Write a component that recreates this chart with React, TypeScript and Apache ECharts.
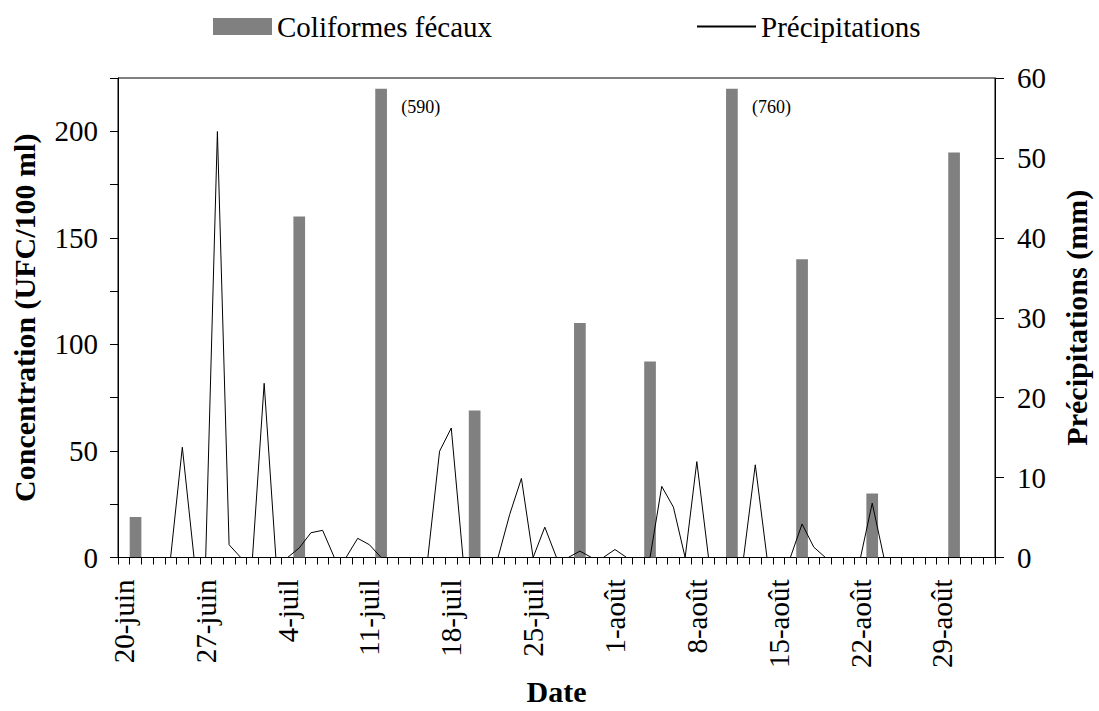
import React, { useEffect, useRef } from "react";
import * as echarts from "echarts";

// Months covered by the daily axis: [label, first day, last day]
const months: [string, number, number][] = [
  ["juin", 20, 30],
  ["juil", 1, 31],
  ["août", 1, 31],
  ["sept", 1, 2],
];

// Fecal coliform sampling dates and concentrations (UFC/100 ml)
const sampleDates = ["21-juin", "5-juil", "12-juil", "20-juil", "29-juil", "4-août", "11-août", "17-août", "23-août", "30-août"];
const coliformValues = [19, 160, 590, 69, 110, 92, 760, 140, 30, 190];
const coliformCap = 220; // values above the axis are drawn truncated with their value in brackets

// Daily precipitation (mm), 20-juin .. 2-sept
const precipitation = [
  0, 0, 0, 0, 0, 13.8, 0, 0, 53.3, 1.6,
  0, 0, 21.8, 0, 0, 1.2, 3.1, 3.4, 0, 0,
  2.4, 1.6, 0, 0, 0, 0, 0, 13.3, 16.2, 0,
  0, 0, 0, 5.4, 9.9, 0, 3.8, 0, 0, 0.8,
  0, 0, 1.0, 0, 0, 0, 8.9, 6.3, 0, 12.0,
  0, 0, 0, 0, 11.6, 0, 0, 0, 4.2, 1.3,
  0, 0, 0, 0, 6.8, 0, 0, 0, 0, 0,
  0, 0, 0, 0, 0,
];

const leftTicks = [0, 50, 100, 150, 200];

const categories: string[] = [];
months.forEach(([m, a, b]) => {
  for (let d = a; d <= b; d++) categories.push(`${d}-${m}`);
});

const FONT = "Liberation Serif";

export default function App() {
  const ref = useRef<HTMLDivElement>(null);
  useEffect(() => {
    if (!ref.current) return;
    const chart = echarts.init(ref.current, undefined, { renderer: "svg" });

    const barData = categories.map((c) => {
      const k = sampleDates.indexOf(c);
      if (k < 0) return "-";
      const v = coliformValues[k];
      if (v > coliformCap) {
        return {
          value: coliformCap,
          label: {
            show: true,
            formatter: `(${v})`,
            position: [26, 18],
            align: "left",
            verticalAlign: "middle",
            fontFamily: FONT,
            fontSize: 18,
            color: "#000",
          },
        };
      }
      return v;
    });

    const tickLabel = { fontFamily: FONT, fontSize: 29, color: "#000" };
    const axisName = { fontFamily: FONT, fontSize: 30, fontWeight: "bold" as const, color: "#000" };
    const axisLine = { show: true, lineStyle: { color: "#000", width: 1 } };

    chart.setOption({
      animation: false,
      backgroundColor: "#fff",
      grid: {
        left: 118,
        right: 99,
        top: 78,
        bottom: 153,
        show: true,
        borderColor: "#000",
        borderWidth: 1,
      },
      legend: {
        left: 208,
        top: 7,
        itemWidth: 59,
        itemHeight: 17,
        itemGap: 204,
        textStyle: { fontFamily: FONT, fontSize: 29, color: "#000" },
        data: [
          { name: "Coliformes fécaux", icon: "rect" },
          { name: "Précipitations", itemStyle: { opacity: 0 } },
        ],
      },
      xAxis: {
        type: "category",
        data: categories,
        boundaryGap: true,
        axisLine,
        axisTick: { show: true, interval: 0, length: 7, lineStyle: { color: "#000" } },
        axisLabel: { ...tickLabel, interval: 6, rotate: 90, margin: 22 },
        splitLine: { show: false },
        name: "Date",
        nameLocation: "middle",
        nameGap: 117,
        nameTextStyle: axisName,
      },
      yAxis: [
        {
          type: "value",
          position: "left",
          min: 0,
          max: 225,
          interval: 25,
          axisLine,
          axisTick: { show: true, length: 8, lineStyle: { color: "#000" } },
          axisLabel: {
            ...tickLabel,
            margin: 20,
            formatter: (v: number) => (leftTicks.includes(v) ? String(v) : ""),
          },
          splitLine: { show: false },
          name: "Concentration (UFC/100 ml)",
          nameLocation: "middle",
          nameGap: 79,
          nameTextStyle: axisName,
        },
        {
          type: "value",
          position: "right",
          min: 0,
          max: 60,
          interval: 10,
          axisLine,
          axisTick: { show: true, length: 9, lineStyle: { color: "#000" } },
          axisLabel: { ...tickLabel, margin: 22 },
          splitLine: { show: false },
          name: "Précipitations (mm)",
          nameLocation: "middle",
          nameRotate: 90,
          nameGap: 66,
          nameTextStyle: axisName,
        },
      ],
      series: [
        {
          name: "Coliformes fécaux",
          type: "bar",
          data: barData,
          barCategoryGap: "0%",
          itemStyle: { color: "#808080" },
          z: 2,
        },
        {
          name: "Précipitations",
          type: "line",
          yAxisIndex: 1,
          data: precipitation,
          symbol: "none",
          lineStyle: { color: "#000", width: 1 },
          itemStyle: { color: "#000" },
          z: 3,
        },
      ],
    });
    return () => chart.dispose();
  }, []);
  return (
    <div
      ref={ref}
      style={{ position: "absolute", left: 0, top: 0, width: 1099, height: 711 }}
    />
  );
}
